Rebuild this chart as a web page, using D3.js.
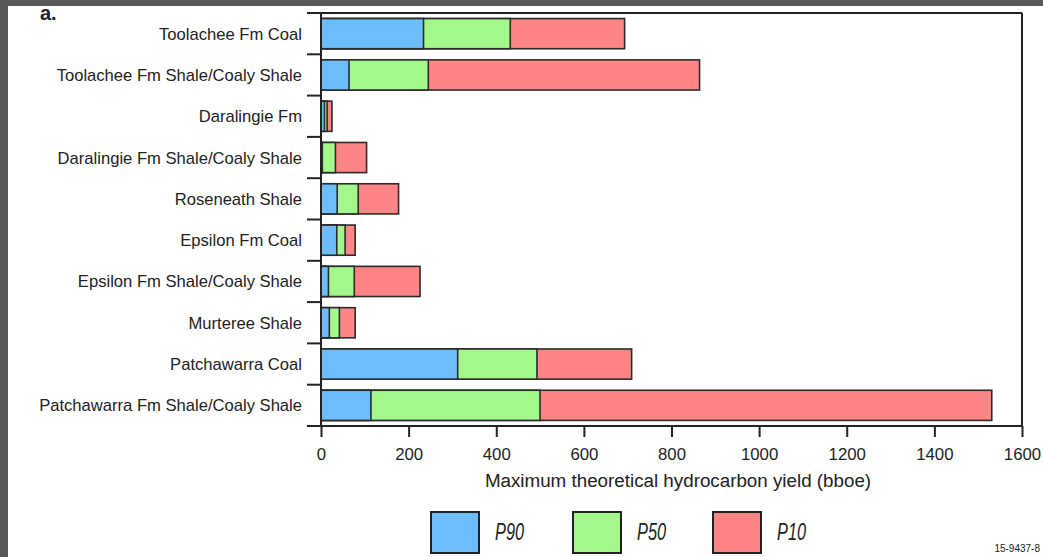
<!DOCTYPE html>
<html>
<head>
<meta charset="utf-8">
<script src="https://cdn.jsdelivr.net/npm/d3@7"></script>
<style>
  html, body { margin: 0; padding: 0; background: #fff; }
  svg { display: block; font-family: "Liberation Sans", Arial, sans-serif; }
</style>
</head>
<body>
<svg id="chart" width="1043" height="557"></svg>
<script>
// formations, top to bottom
const categories = [
    "Toolachee Fm Coal",
    "Toolachee Fm Shale/Coaly Shale",
    "Daralingie Fm",
    "Daralingie Fm Shale/Coaly Shale",
    "Roseneath Shale",
    "Epsilon Fm Coal",
    "Epsilon Fm Shale/Coaly Shale",
    "Murteree Shale",
    "Patchawarra Coal",
    "Patchawarra Fm Shale/Coaly Shale"
];
// bboe
const p90 = [234, 64, 8, 3, 37, 36, 17, 19, 312, 114];
const p50 = [432, 245, 14, 33, 85, 55, 76, 42, 493, 500];
const p10 = [693, 864, 25, 104, 177, 78, 226, 78, 709, 1531];
const xTicks = [0, 200, 400, 600, 800, 1000, 1200, 1400, 1600];
const seriesNames = ["P90", "P50", "P10"];

const W = 1043, H = 557;
const m = { top: 13, right: 21, bottom: 131, left: 321 };
const w = W - m.left - m.right;
const h = H - m.top - m.bottom;

const svg = d3.select("#chart");

// grey screenshot frame
svg.append("rect").attr("x", 0).attr("y", 0).attr("width", W).attr("height", 6).attr("fill", "#585858");
svg.append("rect").attr("x", 0).attr("y", 0).attr("width", 8).attr("height", H).attr("fill", "#585858");

const g = svg.append("g").attr("transform", `translate(${m.left},${m.top})`);

const x = d3.scaleLinear().domain([0, 1600]).range([0, w]);
const y = d3.scaleBand().domain(categories).range([0, h])
    .paddingInner(0.27).paddingOuter(0.135);

const COLORS = { P90: "#6cbdfa", P50: "#a4f78a", P10: "#fe8585" };
const rows = categories.map((c, i) => ({ cat: c, P90: p90[i], P50: p50[i], P10: p10[i] }));

// bars overlap from zero: widest (P10) behind, P90 in front
["P10", "P50", "P90"].forEach(key => {
    g.selectAll(".bar-" + key)
        .data(rows).enter().append("rect")
        .attr("class", "bar-" + key)
        .attr("x", x(0))
        .attr("y", d => y(d.cat))
        .attr("width", d => x(d[key]) - x(0))
        .attr("height", y.bandwidth())
        .attr("fill", COLORS[key])
        .attr("stroke", "#2b2b2b").attr("stroke-width", 1.6);
});

// frame: top and right lines
g.append("line").attr("x1", -14).attr("x2", w).attr("y1", 0).attr("y2", 0)
    .attr("stroke", "#222").attr("stroke-width", 2);
g.append("line").attr("x1", w).attr("x2", w).attr("y1", 0).attr("y2", h)
    .attr("stroke", "#222").attr("stroke-width", 2);

// y axis: ticks at the band boundaries, labels at the band centres
const step = y.step();
const boundaries = categories.map(c => y(c) - step * y.paddingInner() / 2);
g.append("line").attr("x1", 0).attr("x2", 0).attr("y1", 0).attr("y2", h)
    .attr("stroke", "#222").attr("stroke-width", 2);
g.selectAll(".ytick").data(boundaries).enter().append("line")
    .attr("class", "ytick")
    .attr("x1", -14).attr("x2", 0)
    .attr("y1", d => d).attr("y2", d => d)
    .attr("stroke", "#222").attr("stroke-width", 2);
g.selectAll(".ylab").data(categories).enter().append("text")
    .attr("class", "ylab")
    .attr("x", -19)
    .attr("y", d => y(d) + y.bandwidth() / 2)
    .attr("dy", "0.36em")
    .attr("text-anchor", "end")
    .attr("font-size", 16.6)
    .attr("fill", "#222")
    .text(d => d);

// x axis
g.append("g").attr("transform", `translate(0,${h})`)
    .call(d3.axisBottom(x).tickValues(xTicks).tickFormat(d3.format("d")).tickSize(11).tickPadding(11))
    .call(a => a.select(".domain").remove())
    .call(a => a.selectAll("line").attr("stroke", "#222").attr("stroke-width", 2))
    .call(a => a.selectAll("text").attr("fill", "#222").attr("font-size", 16.8)
        .attr("font-family", "Liberation Sans, Arial, sans-serif"));
g.append("line").attr("x1", -14).attr("x2", w).attr("y1", h).attr("y2", h)
    .attr("stroke", "#222").attr("stroke-width", 2);

// axis title
g.append("text")
    .attr("x", 357).attr("y", h + 61)
    .attr("text-anchor", "middle")
    .attr("font-size", 18.8).attr("fill", "#222")
    .text("Maximum theoretical hydrocarbon yield (bboe)");

// panel letter
svg.append("text").attr("x", 40).attr("y", 20)
    .attr("font-size", 20).attr("font-weight", "bold").attr("fill", "#222")
    .text("a.");

// legend
const legendX = [431, 573, 713];
const legend = svg.append("g");
seriesNames.forEach((s, i) => {
    legend.append("rect")
        .attr("x", legendX[i]).attr("y", 512)
        .attr("width", 48).attr("height", 41)
        .attr("fill", COLORS[s])
        .attr("stroke", "#222").attr("stroke-width", 2);
    legend.append("text")
        .attr("transform", `translate(${legendX[i] + 64},540) scale(0.68,1)`)
        .attr("font-size", 24).attr("font-style", "italic").attr("fill", "#222")
        .text(s);
});

svg.append("text").attr("x", 1040).attr("y", 552)
    .attr("text-anchor", "end").attr("font-size", 10).attr("fill", "#222")
    .text("15-9437-8");
</script>
</body>
</html>
